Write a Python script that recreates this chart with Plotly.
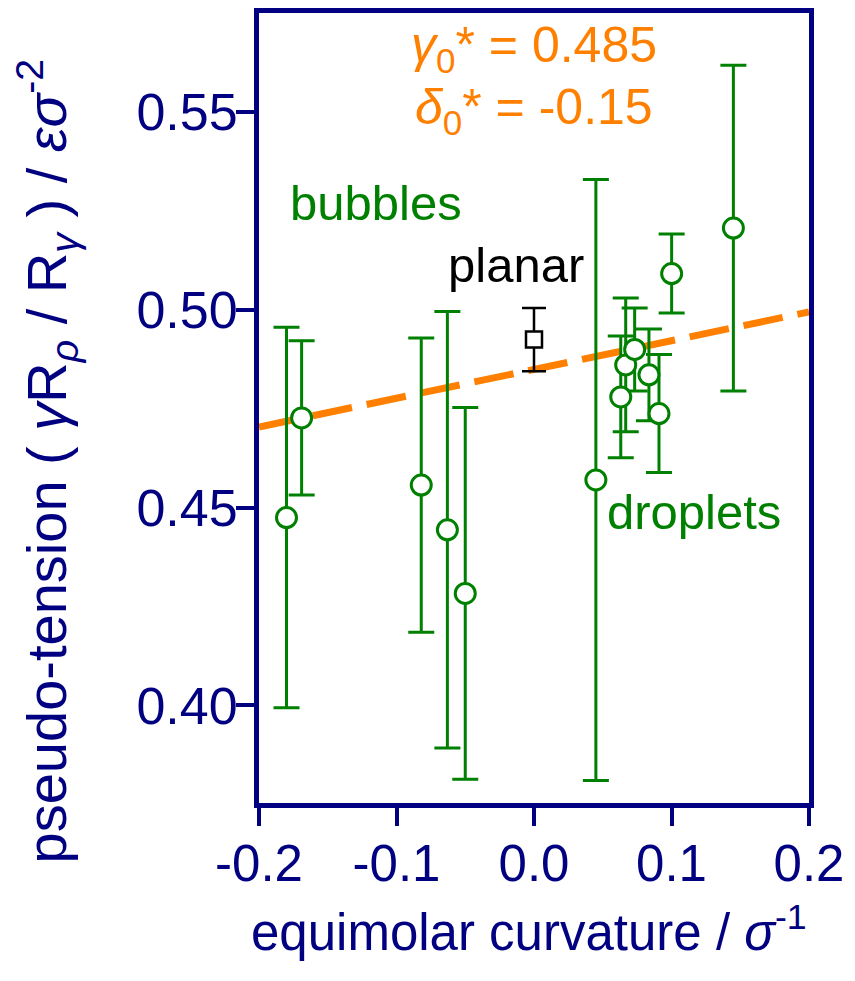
import plotly.graph_objects as go

# ---- data ----
curv = [-0.180, -0.169, -0.082, -0.063, -0.050, 0.045, 0.0631, 0.0667, 0.0732, 0.0836, 0.0909, 0.1001, 0.145]
tension = [0.4475, 0.4727, 0.4557, 0.4444, 0.4283, 0.4570, 0.4780, 0.4861, 0.4900, 0.4836, 0.4738, 0.5092, 0.5207]
err = [0.0481, 0.0195, 0.0372, 0.0552, 0.0470, 0.0760, 0.0154, 0.0169, 0.0105, 0.0116, 0.0149, 0.0100, 0.0412]

planar_x = [0.0]
planar_y = [0.4925]
planar_err = [0.0080]

fit_x = [-0.2, 0.2]
fit_y = [0.4704, 0.4995]

x_ticks = [-0.2, -0.1, 0.0, 0.1, 0.2]
x_ticklabels = ["-0.2", "-0.1", "0.0", "0.1", "0.2"]
y_ticks = [0.40, 0.45, 0.50, 0.55]
y_ticklabels = ["0.40", "0.45", "0.50", "0.55"]

NAVY = "#000080"
GREEN = "#008000"
ORANGE = "#FF8000"
FONT = "Liberation Sans, Arial, sans-serif"

fig = go.Figure()

fig.add_trace(go.Scatter(
    x=fit_x, y=fit_y, mode="lines",
    line=dict(color=ORANGE, width=7, dash="40px,15px"),
    showlegend=False, hoverinfo="skip"))

fig.add_trace(go.Scatter(
    x=curv, y=tension, mode="markers",
    marker=dict(symbol="circle", size=20, color="white",
                line=dict(color=GREEN, width=3)),
    error_y=dict(type="data", array=err, visible=True,
                 color=GREEN, thickness=3, width=13),
    showlegend=False))

fig.add_trace(go.Scatter(
    x=planar_x, y=planar_y, mode="markers",
    marker=dict(symbol="square", size=16, color="white",
                line=dict(color="black", width=2.5)),
    error_y=dict(type="data", array=planar_err, visible=True,
                 color="black", thickness=2.5, width=12),
    showlegend=False))

axis_common = dict(
    showline=True, linewidth=5, linecolor=NAVY, mirror=True,
    ticks="outside", ticklen=18, tickwidth=4, tickcolor=NAVY,
    showgrid=False, zeroline=False,
)

fig.update_xaxes(range=[-0.2, 0.2], tickvals=x_ticks, ticktext=x_ticklabels,
                 ticklabelstandoff=-6, tickfont=dict(family=FONT, size=51, color=NAVY),
                 **axis_common)
fig.update_yaxes(range=[0.3753, 0.5751], tickvals=y_ticks, ticktext=y_ticklabels,
                 ticklabelstandoff=-12, tickfont=dict(family=FONT, size=52, color=NAVY),
                 **axis_common)

ann = []
ann.append(dict(x=0.0, y=0.5661, xref="x", yref="y",
                text="<i>γ</i><sub>0</sub>* = 0.485", showarrow=False,
                font=dict(family=FONT, size=50, color=ORANGE), xanchor="center", yanchor="middle"))
ann.append(dict(x=0.0, y=0.5505, xref="x", yref="y",
                text="<i>δ</i><sub>0</sub>* = -0.15", showarrow=False,
                font=dict(family=FONT, size=50, color=ORANGE), xanchor="center", yanchor="middle"))
ann.append(dict(x=-0.1149, y=0.5270, xref="x", yref="y", text="bubbles", showarrow=False,
                font=dict(family=FONT, size=49, color=GREEN), xanchor="center", yanchor="middle"))
ann.append(dict(x=-0.0131, y=0.5113, xref="x", yref="y", text="planar", showarrow=False,
                font=dict(family=FONT, size=49, color="black"), xanchor="center", yanchor="middle"))
ann.append(dict(x=0.1165, y=0.4490, xref="x", yref="y", text="droplets", showarrow=False,
                font=dict(family=FONT, size=49, color=GREEN), xanchor="center", yanchor="middle"))
# axis titles
ann.append(dict(x=0.49, y=-0.160, xref="paper", yref="paper",
                text="equimolar curvature / <i>σ</i><sup>-1</sup>", showarrow=False,
                font=dict(family=FONT, size=51, color=NAVY), xanchor="center", yanchor="middle"))
ann.append(dict(x=-0.386, y=0.432, xref="paper", yref="paper", textangle=-90,
                text="pseudo-tension ( <i>γ</i>R<sub><i>ρ</i></sub> / R<sub><i>γ</i></sub> ) / <i>εσ</i><sup>-2</sup>",
                showarrow=False,
                font=dict(family=FONT, size=56, color=NAVY),
                xanchor="center", yanchor="middle"))

fig.update_layout(
    width=855, height=981,
    margin=dict(l=251, r=54, t=0, b=186),
    paper_bgcolor="white", plot_bgcolor="white",
    annotations=ann, showlegend=False,
)

fig.write_html("out.html")
